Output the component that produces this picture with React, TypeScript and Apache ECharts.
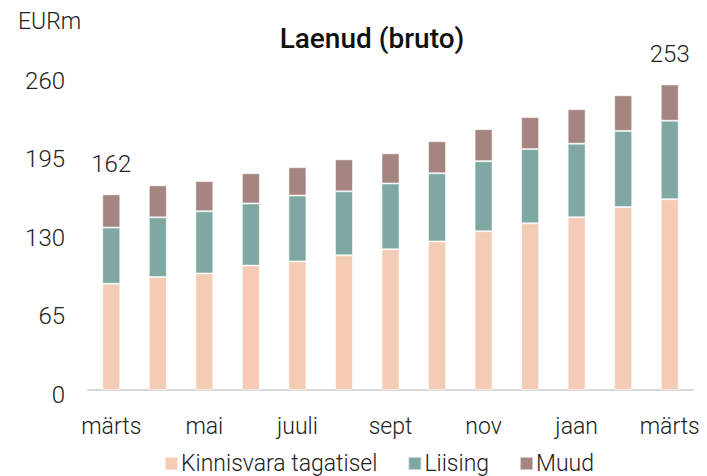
import React, { useEffect, useRef } from "react";
import * as echarts from "echarts";

const categories = ["märts", "apr", "mai", "juuni", "juuli", "aug", "sept", "okt", "nov", "dets", "jaan", "veebr", "märts"];
const kinnisvara = [88, 93.5, 96.5, 103, 106.5, 111.5, 116.5, 123, 131.5, 138, 143, 151.5, 158];
const liising = [46.5, 49.5, 51.5, 51.5, 54.5, 53, 54.5, 56.5, 58, 61.5, 61, 63, 65];
const muud = [27.5, 26.5, 25, 25, 23.5, 26.5, 25, 26.5, 26.5, 26.5, 28.5, 29.5, 30];
const shownTotals: Record<number, string> = { 0: "162", 12: "253" };
const yTicks = [0, 65, 130, 195, 260];

const FONT = "Roboto";

export default function App() {
  const ref = useRef<HTMLDivElement>(null);
  useEffect(() => {
    if (!ref.current) return;
    const chart = echarts.init(ref.current, undefined, { renderer: "svg" });
    const border = { borderColor: "rgba(255,255,255,0.55)", borderWidth: 1 };
    chart.setOption({
      animation: false,
      textStyle: { fontFamily: FONT },
      title: {
        text: "Laenud (bruto)",
        left: 367,
        top: 19,
        textAlign: "center",
        textStyle: { fontFamily: FONT, fontSize: 28, fontWeight: 500, color: "#111" },
      },
      graphic: [
        {
          type: "text",
          left: 18,
          top: 10,
          style: { text: "EURm", fontFamily: FONT, fontSize: 23, fontWeight: 300, fill: "#222" },
        },
      ],
      legend: {
        top: 447,
        left: 159,
        itemWidth: 13,
        itemHeight: 13,
        itemGap: 30,
        icon: "rect",
        textStyle: { fontFamily: FONT, fontSize: 23, fontWeight: 300, color: "#222", padding: [0, 0, 0, -2] },
        data: ["Kinnisvara tagatisel", "Liising", "Muud"],
      },
      grid: { left: 88, right: 14, top: 76, bottom: 86, containLabel: false },
      xAxis: {
        type: "category",
        data: categories,
        axisLine: { lineStyle: { color: "#d9d9d9", width: 2 } },
        axisTick: { show: false },
        axisLabel: {
          interval: 1,
          fontFamily: FONT,
          fontSize: 23,
          fontWeight: 300,
          color: "#222",
          margin: 25,
        },
      },
      yAxis: {
        type: "value",
        min: 0,
        max: 260,
        interval: 65,
        splitLine: { show: false },
        axisLine: { show: false },
        axisTick: { show: false },
        axisLabel: {
          fontFamily: FONT,
          fontSize: 24,
          fontWeight: 300,
          color: "#222",
          margin: 23,
          formatter: (v: number) => (yTicks.includes(v) ? "{a|" + v + "}" : ""),
          rich: {
            a: {
              fontFamily: FONT,
              fontSize: 24,
              fontWeight: 300,
              color: "#222",
              padding: [9, 0, 0, 0],
            },
          },
        },
      },
      series: [
        {
          name: "Kinnisvara tagatisel",
          type: "bar",
          stack: "t",
          barWidth: 18,
          data: kinnisvara,
          itemStyle: { color: "#F4CBB4", ...border },
        },
        {
          name: "Liising",
          type: "bar",
          stack: "t",
          barWidth: 18,
          data: liising,
          itemStyle: { color: "#7FA8A3", ...border },
        },
        {
          name: "Muud",
          type: "bar",
          stack: "t",
          barWidth: 18,
          data: muud,
          itemStyle: { color: "#A5857F", ...border },
          label: {
            show: true,
            position: "top",
            distance: 18,
            fontFamily: FONT,
            fontSize: 24,
            fontWeight: 300,
            color: "#222",
            formatter: (p: any) => shownTotals[p.dataIndex] ?? "",
          },
        },
      ],
    });
    return () => chart.dispose();
  }, []);
  return (
    <div
      ref={ref}
      style={{ position: "absolute", left: 0, top: 0, width: 707, height: 476 }}
    />
  );
}
